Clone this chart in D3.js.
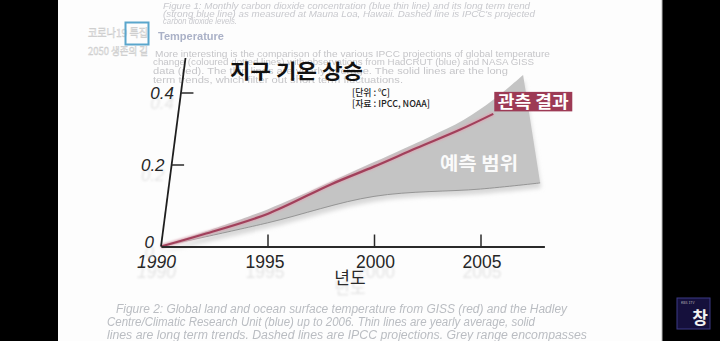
<!DOCTYPE html>
<html>
<head>
<meta charset="utf-8">
<script src="https://cdn.jsdelivr.net/npm/d3@7"></script>
<style>
  html, body { margin: 0; padding: 0; background: #000; }
  svg { display: block; }
</style>
</head>
<body>
<svg id="chart" width="720" height="341"></svg>
<script>
// Observed global temperature trend (°C, relative to 1990)
const obsYears  = [1990, 1992, 1995, 1998, 2000, 2002, 2004, 2005.6];
const obsValues = [0, 0.03, 0.08, 0.153, 0.196, 0.247, 0.297, 0.342];

// IPCC projected range: upper and lower bounds
const rangeUpperYears  = [1990, 1995, 2000, 2002.6, 2004.2, 2005.6, 2007];
const rangeUpperValues = [0, 0.091, 0.208, 0.278, 0.325, 0.381, 0.45];
const rangeLowerYears  = [1990, 1995, 2000, 2005, 2007.8];
const rangeLowerValues = [0, 0.058, 0.123, 0.141, 0.156];

// Axis ticks
const xTicks = [1990, 1995, 2000, 2005];
const yTicks = [0, 0.2, 0.4];
const yTickLabels = ["0", "0.2", "0.4"];

// Texts
const titleText = "지구 기온 상승";
const unitText = "[단위 : ℃]";
const sourceText = "[자료 : IPCC, NOAA]";
const obsLabel = "관측 결과";
const rangeLabel = "예측 범위";
const xAxisTitle = "년도";

const bgFigure1 = [
  "Figure 1: Monthly carbon dioxide concentration (blue thin line) and its long term trend",
  "(strong blue line) as measured at Mauna Loa, Hawaii. Dashed line is IPCC's projected",
  "carbon dioxide levels."
];
const bgHeading = "Temperature";
const bgParagraph = [
  "More interesting is the comparison of the various IPCC projections of global temperature",
  "change (coloured dotted lines) with observations from HadCRUT (blue) and NASA GISS",
  "data (red). The thin lines are yearly average. The solid lines are the long",
  "term trends, which filter out short term fluctuations."
];
const bgCaption = [
  "Figure 2: Global land and ocean surface temperature from GISS (red) and the Hadley",
  "Centre/Climatic Research Unit (blue) up to 2006. Thin lines are yearly average, solid",
  "lines are long term trends. Dashed lines are IPCC projections. Grey range encompasses"
];

const svg = d3.select("#chart");
const W = 720, H = 341;

// ---- filters ----
const defs = svg.append("defs");
defs.append("filter").attr("id", "soft").attr("x", "-20%").attr("y", "-20%").attr("width", "140%").attr("height", "140%")
  .append("feGaussianBlur").attr("stdDeviation", 0.9);
defs.append("filter").attr("id", "shadow").attr("x", "-20%").attr("y", "-20%").attr("width", "140%").attr("height", "140%")
  .append("feGaussianBlur").attr("stdDeviation", 2.2);
defs.append("filter").attr("id", "haze").append("feGaussianBlur").attr("stdDeviation", 0.4);

// ---- page frame ----
svg.append("rect").attr("x", 0).attr("y", 0).attr("width", W).attr("height", H).attr("fill", "#000");
svg.append("rect").attr("x", 58).attr("y", 0).attr("width", 604).attr("height", H).attr("fill", "#fdfdfd");
svg.append("line").attr("x1", 662).attr("x2", 662).attr("y1", 0).attr("y2", H)
  .attr("stroke", "#b8b8b8").attr("stroke-width", 1);

// ---- faded page text behind the chart ----
const bg = svg.append("g").attr("filter", "url(#haze)")
  .style("font-family", "'Liberation Sans', Arial, sans-serif");

const fig1Widths = [367, 372, 74];
bgFigure1.forEach((t, i) => {
  bg.append("text").attr("x", 163).attr("y", 9 + i * 7.6)
    .attr("font-size", 8.6).attr("font-style", "italic").attr("fill", "#c8c9ce")
    .attr("textLength", fig1Widths[i]).attr("lengthAdjust", "spacingAndGlyphs").text(t);
});
bg.append("text").attr("x", 158).attr("y", 40).attr("font-size", 10).attr("font-weight", "bold")
  .attr("fill", "#aab1c7").attr("textLength", 66).attr("lengthAdjust", "spacingAndGlyphs").text(bgHeading);

const paraWidths = [395, 381, 355, 250];
bgParagraph.forEach((t, i) => {
  bg.append("text").attr("x", i === 0 ? 155 : 153).attr("y", 56.5 + i * 8.7)
    .attr("font-size", 9).attr("fill", "#c6c6c9")
    .attr("textLength", paraWidths[i]).attr("lengthAdjust", "spacingAndGlyphs").text(t);
});

const capX = [116, 107, 107], capW = [451, 428, 480];
bgCaption.forEach((t, i) => {
  bg.append("text").attr("x", capX[i]).attr("y", 313 + i * 13)
    .attr("font-size", 12).attr("font-style", "italic").attr("fill", "#babdc2")
    .attr("textLength", capW[i]).attr("lengthAdjust", "spacingAndGlyphs").text(t);
});

// broadcast badge, top left
const badge = svg.append("g").style("font-family", "'Noto Sans CJK KR', sans-serif");
badge.append("text").attr("x", 88).attr("y", 37).attr("font-size", 11).attr("fill", "#f4f4f4")
  .attr("stroke", "#c8c8c8").attr("stroke-width", 0.45)
  .attr("textLength", 60).attr("lengthAdjust", "spacingAndGlyphs").text("코로나19 특집");
badge.append("rect").attr("x", 125.5).attr("y", 22.5).attr("width", 23).attr("height", 22)
  .attr("fill", "none").attr("stroke", "#5aa6cc").attr("stroke-width", 2);
badge.append("text").attr("x", 88).attr("y", 55).attr("font-size", 10.5).attr("fill", "#f4f4f4")
  .attr("stroke", "#c8c8c8").attr("stroke-width", 0.45)
  .attr("textLength", 60).attr("lengthAdjust", "spacingAndGlyphs").text("2050 생존의 길");

// channel badge, bottom right
const ch = svg.append("g");
ch.append("rect").attr("x", 677).attr("y", 298).attr("width", 33).attr("height", 31)
  .attr("fill", "#15103c").attr("stroke", "#3c3a86").attr("stroke-width", 1);
ch.append("text").attr("x", 681).attr("y", 304).attr("font-size", 3.5).attr("fill", "#bbb")
  .style("font-family", "'Noto Sans CJK KR', sans-serif").text("KBS 1TV");
ch.append("text").attr("x", 700).attr("y", 324).attr("text-anchor", "middle")
  .attr("font-size", 17).attr("font-weight", "bold").attr("fill", "#f2f2f2")
  .style("font-family", "'Noto Sans CJK KR', sans-serif").text("창");

// ---- scales ----
const x = d3.scaleLinear().domain([1990, 2008]).range([161, 544.4]);
const y = d3.scaleLinear().domain([0, 0.2, 0.4]).range([246.5, 165, 93]);

// slanted vertical axis: horizontal offset grows with height
const axisTopY = 58, axisTopX = 185.5;
const axisX = py => x(1990) + (y(0) - py) * (axisTopX - x(1990)) / (y(0) - axisTopY);

const chart = svg.append("g");

// ---- projected range band ----
const curve = d3.curveCatmullRom.alpha(0.5);
const upperPts = rangeUpperYears.map((yr, i) => [x(yr), y(rangeUpperValues[i])]);
const lowerPts = rangeLowerYears.map((yr, i) => [x(yr), y(rangeLowerValues[i])]);
const lineGen = d3.line().curve(curve);
const upperPath = lineGen(upperPts);
const lowerRevPath = lineGen(lowerPts.slice().reverse()).replace(/^M/, "L");
const bandPath = upperPath + lowerRevPath + "Z";

chart.append("path").attr("d", bandPath).attr("fill", "#d8d8d8")
  .attr("transform", "translate(1,5)").attr("filter", "url(#shadow)");
chart.append("path").attr("d", bandPath).attr("fill", "#c4c4c4");
chart.append("path").attr("d", lineGen(lowerPts)).attr("fill", "none")
  .attr("stroke", "#8f8f8f").attr("stroke-width", 0.9);

// ---- observed trend ----
const obsPts = obsYears.map((yr, i) => [x(yr), y(obsValues[i])]);
chart.append("path").attr("d", lineGen(obsPts)).attr("fill", "none")
  .attr("stroke", "#d9a8b4").attr("stroke-width", 4).attr("filter", "url(#soft)");
chart.append("path").attr("d", lineGen(obsPts)).attr("fill", "none")
  .attr("stroke", "#a1405b").attr("stroke-width", 2.2);

// ---- x axis ----
const labelFont = "'Liberation Sans', Arial, sans-serif";
const xAxis = d3.axisBottom(x).tickValues(xTicks).tickSize(-12).tickSizeOuter(0).tickPadding(9)
  .tickFormat(d3.format("d"));
const gx = chart.append("g").attr("transform", `translate(0,${y(0)})`).call(xAxis);
gx.select(".domain").attr("stroke", "#2a2a2a").attr("stroke-width", 2);
gx.selectAll(".tick line").attr("stroke", "#2a2a2a").attr("stroke-width", 1.5)
  .filter(d => d === 1990).remove();
gx.selectAll(".tick text")
  .attr("font-size", 17.5).attr("fill", "#262626").style("font-family", labelFont)
  .attr("font-style", d => d === 1990 ? "italic" : "normal")
  .attr("x", d => d === 1990 ? -5 : (d === 1995 ? -3 : 1));
// faint reflections under the year labels
gx.selectAll(".tick").each(function (d) {
  const t = d3.select(this).select("text");
  d3.select(this).insert("text", "text")
    .attr("x", t.attr("x")).attr("y", +t.attr("y") + 10).attr("dy", t.attr("dy"))
    .attr("text-anchor", "middle").attr("font-size", 17.5).style("font-family", labelFont)
    .attr("font-style", d === 1990 ? "italic" : "normal")
    .attr("fill", "#e4e4e4").attr("filter", "url(#soft)").text(d3.format("d")(d));
});

// ---- y axis (slanted) ----
chart.append("line").attr("x1", x(1990)).attr("y1", y(0)).attr("x2", axisTopX).attr("y2", axisTopY)
  .attr("stroke", "#1e1e1e").attr("stroke-width", 1.8);
const gy = chart.append("g");
yTicks.forEach((v, i) => {
  const py = y(v), ax = axisX(py);
  if (v !== 0) {
    gy.append("line").attr("x1", ax).attr("x2", ax + 12.5).attr("y1", py).attr("y2", py)
      .attr("stroke", "#2a2a2a").attr("stroke-width", 1.5);
  }
  const ly = Math.min(py, 242);
  gy.append("text").attr("x", ax - 7).attr("y", ly + 10).attr("dy", "0.35em").attr("text-anchor", "end")
    .attr("font-size", 17).attr("font-style", "italic").style("font-family", labelFont)
    .attr("fill", "#e4e4e4").attr("filter", "url(#soft)").text(yTickLabels[i]);
  gy.append("text").attr("x", ax - 7).attr("y", ly).attr("dy", "0.35em").attr("text-anchor", "end")
    .attr("font-size", 17).attr("font-style", "italic").style("font-family", labelFont)
    .attr("fill", "#262626").text(yTickLabels[i]);
});

// x axis title with reflection
const kr = "'Noto Sans CJK KR', 'Noto Sans', sans-serif";
chart.append("text").attr("x", 350).attr("y", 294).attr("text-anchor", "middle")
  .attr("font-size", 17).attr("fill", "#e2e2e2").attr("filter", "url(#soft)")
  .style("font-family", kr).text(xAxisTitle);
chart.append("text").attr("x", 350).attr("y", 284).attr("text-anchor", "middle")
  .attr("font-size", 17).attr("fill", "#2a2a2a").style("font-family", kr).text(xAxisTitle);

// ---- title and notes ----
chart.append("text").attr("x", 230).attr("y", 79).attr("font-size", 20.5).attr("font-weight", "bold")
  .attr("fill", "#111").style("font-family", kr)
  .attr("textLength", 133).attr("lengthAdjust", "spacingAndGlyphs").text(titleText);
chart.append("text").attr("x", 352).attr("y", 95.5).attr("font-size", 9.5).attr("font-weight", 500)
  .attr("fill", "#222").style("font-family", kr)
  .attr("textLength", 38).attr("lengthAdjust", "spacingAndGlyphs").text(unitText);
chart.append("text").attr("x", 352).attr("y", 107).attr("font-size", 9.5).attr("font-weight", 500)
  .attr("fill", "#222").style("font-family", kr)
  .attr("textLength", 78).attr("lengthAdjust", "spacingAndGlyphs").text(sourceText);

// observed label box, anchored to the end of the observed line
const lastObs = obsPts[obsPts.length - 1];
const boxX = lastObs[0] + 1, boxY = lastObs[1] - 22;
chart.append("rect").attr("x", boxX).attr("y", boxY).attr("width", 78).attr("height", 19.5)
  .attr("fill", "#9d3a55");
chart.append("text").attr("x", boxX + 39).attr("y", boxY + 16).attr("text-anchor", "middle")
  .attr("font-size", 16.5).attr("font-weight", "bold").attr("fill", "#fff").style("font-family", kr)
  .attr("textLength", 71).attr("lengthAdjust", "spacingAndGlyphs").text(obsLabel);

// range label on the band
chart.append("text").attr("x", 479).attr("y", 170).attr("text-anchor", "middle")
  .attr("font-size", 18).attr("font-weight", "bold").attr("fill", "#fafafa").style("font-family", kr)
  .attr("textLength", 78).attr("lengthAdjust", "spacingAndGlyphs").text(rangeLabel);
</script>
</body>
</html>
